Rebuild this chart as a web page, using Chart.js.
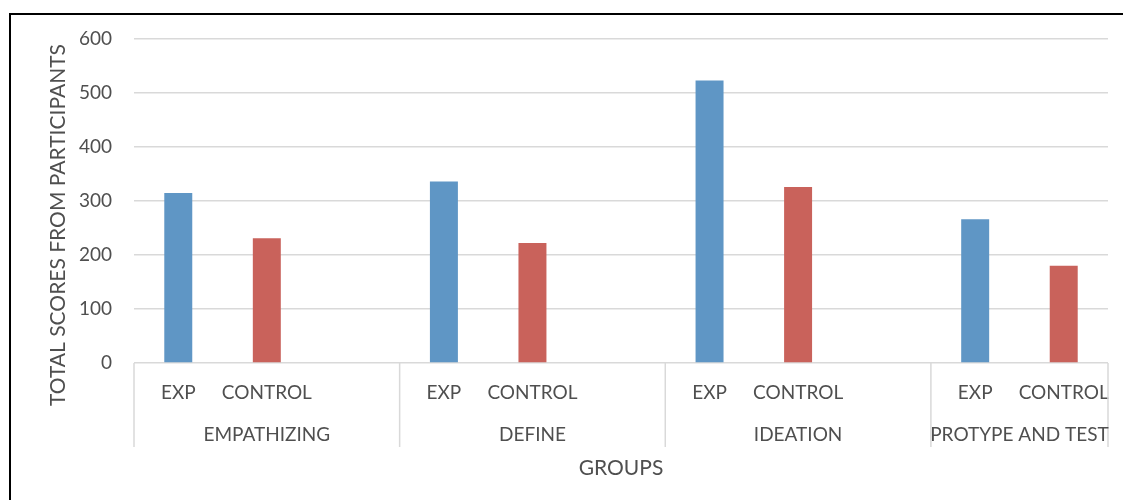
<!DOCTYPE html>
<html>
<head>
<meta charset="utf-8">
<script src="https://cdn.jsdelivr.net/npm/chart.js@4.4.1/dist/chart.umd.min.js"></script>
<style>
  html, body { margin: 0; padding: 0; background: #fff; }
  #wrap { position: relative; width: 1123px; height: 500px; }
  #frame {
    position: absolute; left: 9px; top: 13px; right: 0; bottom: 0;
    border-left: 2px solid #000; border-top: 2px solid #000;
    pointer-events: none;
  }
</style>
</head>
<body>
<div id="wrap">
  <canvas id="chart" width="1123" height="500"></canvas>
  <div id="frame"></div>
</div>
<script>
// phases (top row of the x axis is the sub group, bottom row is the phase)
const phases = ["EMPATHIZING", "DEFINE", "IDEATION", "PROTYPE AND TEST"];
const groups = ["EXP", "CONTROL"];
const expScores = [315, 336, 523, 266];
const controlScores = [231, 222, 326, 180];
const yTicks = [0, 100, 200, 300, 400, 500, 600];

const TEXT = "#4f4f4f";
const GRID = "#d9d9d9";
const BLUE = "#5f96c5";
const RED = "#c9625b";
const FONT = "Lato, 'Open Sans', sans-serif";

// flatten into slots: EXP, CONTROL, (gap) per phase, no gap after the last one
const labels = [];
const values = [];
const colors = [];
const phaseSpans = [];
phases.forEach((p, i) => {
    const start = labels.length;
    labels.push(groups[0]); values.push(expScores[i]); colors.push(BLUE);
    labels.push(groups[1]); values.push(controlScores[i]); colors.push(RED);
    if (i < phases.length - 1) {
        labels.push(""); values.push(null); colors.push(BLUE);
    }
    phaseSpans.push([start, labels.length - 1]);
});

// second level of the category axis + rotated y title
const groupAxisPlugin = {
    id: "groupAxis",
    afterDraw(chart) {
        const ctx = chart.ctx;
        const x = chart.scales.x;
        const area = chart.chartArea;
        const step = x.getPixelForValue(1) - x.getPixelForValue(0);
        const lineBottom = area.bottom + 84;

        ctx.save();
        ctx.strokeStyle = GRID;
        ctx.lineWidth = 1.5;
        phaseSpans.forEach(([a, b], i) => {
            const left = x.getPixelForValue(a) - step / 2;
            const right = x.getPixelForValue(b) + step / 2;
            ctx.beginPath();
            ctx.moveTo(left, area.bottom);
            ctx.lineTo(left, lineBottom);
            if (i === phaseSpans.length - 1) {
                ctx.moveTo(right, area.bottom);
                ctx.lineTo(right, lineBottom);
            }
            ctx.stroke();

            ctx.fillStyle = TEXT;
            ctx.font = "19px " + FONT;
            ctx.textAlign = "center";
            ctx.textBaseline = "middle";
            ctx.fillText(phases[i], (left + right) / 2, area.bottom + 72);
        });

        ctx.font = "21px " + FONT;
        ctx.fillText("GROUPS", (area.left + area.right) / 2, area.bottom + 105);

        ctx.translate(58, (area.top + area.bottom) / 2 + 24);
        ctx.rotate(-Math.PI / 2);
        ctx.font = "21px " + FONT;
        ctx.fillText("TOTAL SCORES FROM PARTICIPANTS", 0, 0);
        ctx.restore();
    }
};

new Chart(document.getElementById("chart"), {
    type: "bar",
    data: {
        labels: labels,
        datasets: [{
            data: values,
            backgroundColor: colors,
            borderWidth: 0,
            barPercentage: 0.316,
            categoryPercentage: 1.0,
        }],
    },
    options: {
        responsive: false,
        animation: false,
        layout: { padding: { top: 39, right: 15, left: 0, bottom: 0 } },
        plugins: {
            legend: { display: false },
            tooltip: { enabled: false },
        },
        scales: {
            x: {
                grid: { display: false },
                border: { display: false },
                ticks: {
                    color: TEXT,
                    font: { family: FONT, size: 19 },
                    padding: 10,
                    maxRotation: 0,
                    autoSkip: false,
                },
                afterFit: (s) => { s.height = 137; },
            },
            y: {
                min: 0,
                max: 600,
                afterBuildTicks: (s) => { s.ticks = yTicks.map(v => ({ value: v })); },
                grid: { color: GRID, lineWidth: 1.5, drawTicks: false },
                border: { display: false },
                ticks: {
                    color: TEXT,
                    font: { family: FONT, size: 19 },
                    padding: 22,
                },
                afterFit: (s) => { s.width = 134; },
            },
        },
    },
    plugins: [groupAxisPlugin],
});
</script>
</body>
</html>
